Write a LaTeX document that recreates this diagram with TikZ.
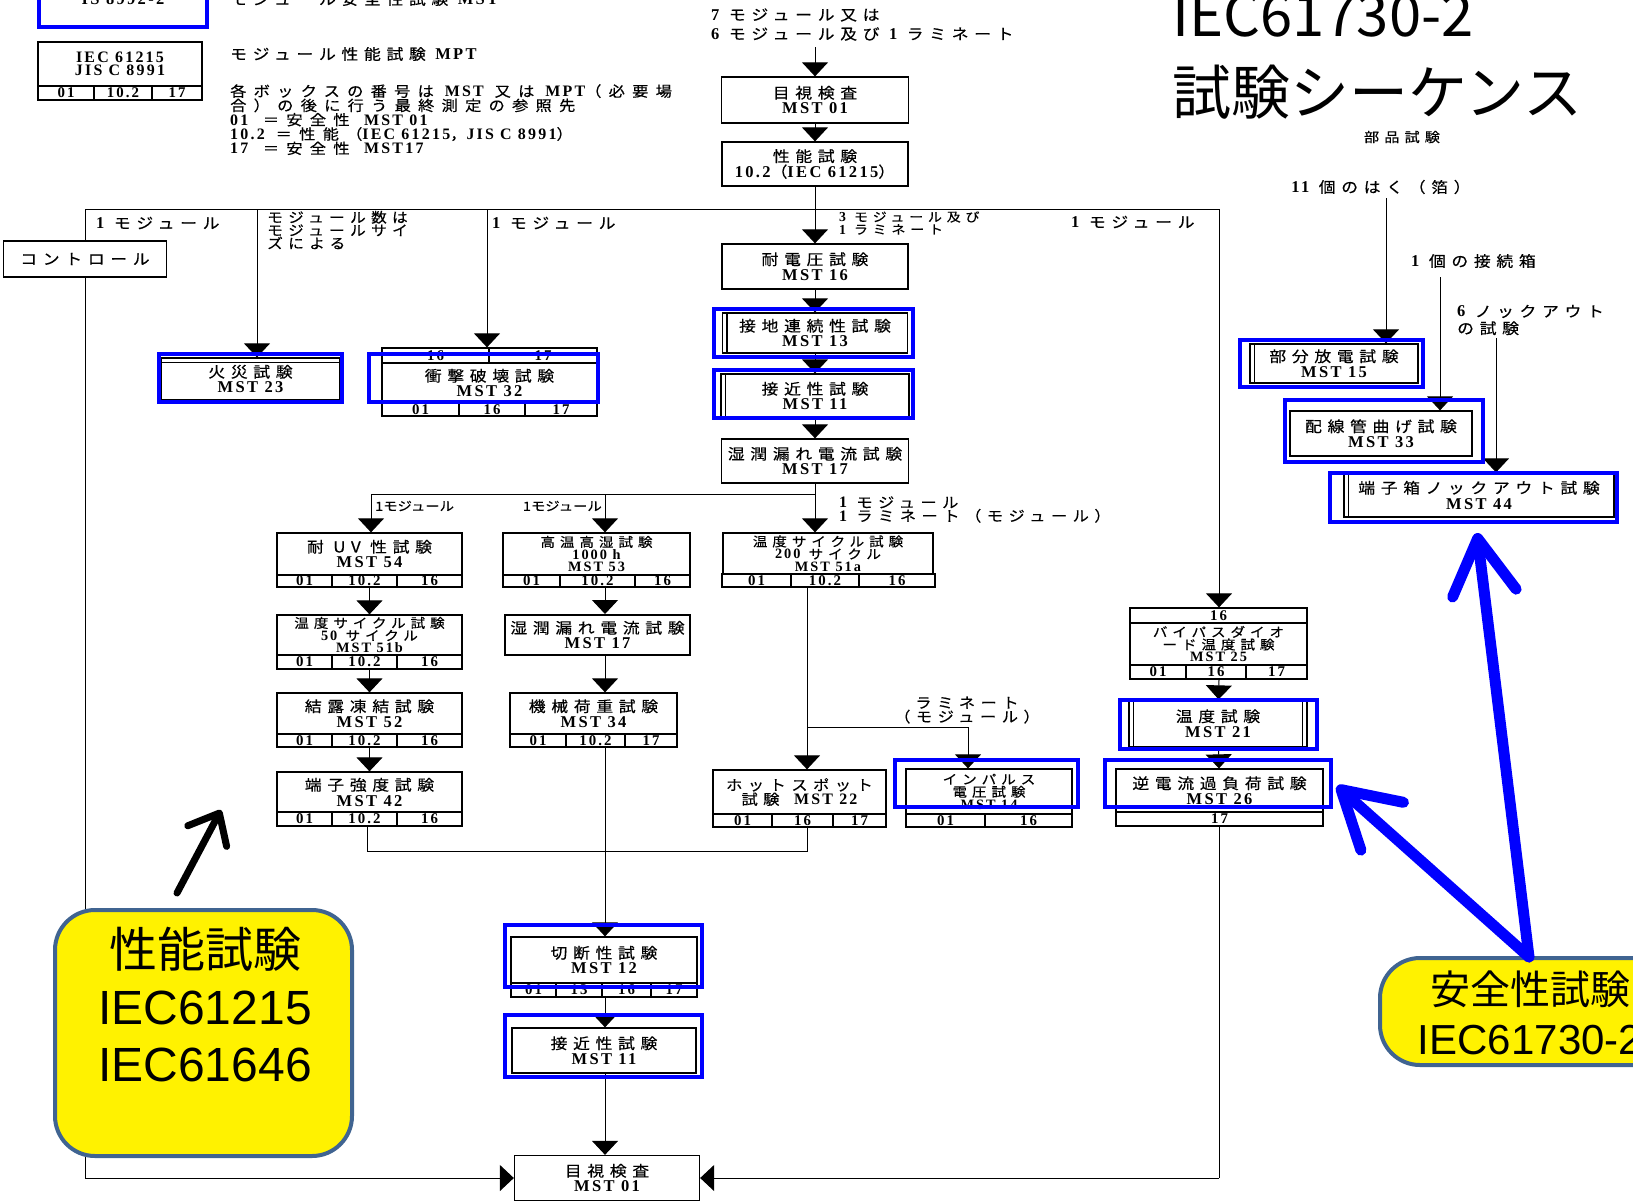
\documentclass[tikz,border=0pt]{standalone}
\usepackage{fontspec}
\setmainfont{Liberation Serif}
\newfontfamily\jp[FakeStretch=1.12,LetterSpace=38,FakeBold=0.4]{Noto Sans CJK JP}
\newfontfamily\jpn[FakeStretch=1.15,FakeBold=0.3]{Noto Sans CJK JP}
\newfontfamily\jpt{Noto Sans CJK JP}
\newfontfamily\lat[LetterSpace=14,Scale=1.1]{Liberation Serif}
\newfontfamily\arl{Liberation Sans}
\usetikzlibrary{arrows.meta}
\definecolor{calloutblue}{RGB}{64,100,145}

\newcommand\mst[1]{{\lat\bfseries #1}}
\newcommand\boxfont{\jp\fontsize{15}{15.5}\selectfont}
\newcommand\tripfont{\jp\fontsize{13}{12.5}\selectfont}
\newcommand\cellfont{\lat\bfseries\fontsize{13.5}{13}\selectfont}

% row of result cells under a box: prefix, top, bottom, list of left/right/text
\newcommand\cellrow[4]{%
  \foreach \ca/\cb/\ct [count=\ci] in {#4} {
    \pgfmathsetmacro{\cw}{\cb-\ca}
    \pgfmathsetmacro{\cx}{(\ca+\cb)/2}
    \pgfmathsetmacro{\ch}{#3-#2}
    \pgfmathsetmacro{\cy}{(#2+#3)/2}
    \node[cell, minimum width=\cw pt, minimum height=\ch pt] (#1\ci) at (\cx,\cy) {\ct};
  }
}

\tikzset{
  box/.style={draw, fill=white, line width=1.3pt, inner sep=0pt, align=center, font=\boxfont},
  cell/.style={draw, fill=white, line width=1.3pt, inner sep=0pt, font=\cellfont},
  hl/.style={draw=blue, line width=4pt},
  wire/.style={line width=1pt},
  flow/.style={wire, -{Triangle[length=14pt,width=26pt]}},
  lbl/.style={inner sep=0pt, font=\boxfont, anchor=west, align=left},
  callout/.style={draw=calloutblue, fill=yellow, line width=4pt, rounded corners=40pt},
  bigarrow/.style={blue, line width=11pt, line cap=round, -{Straight Barb[round,length=55pt,width=64pt]}},
}

\begin{document}
\begin{tikzpicture}[x=1pt, y=-1pt]
\useasboundingbox (0,0) rectangle (1633,1203);

% legend, top left
\node[hl, minimum width=168pt, minimum height=50pt, inner sep=0pt] (isbox) at (123,2) {};
\node[inner sep=0pt, font=\lat\bfseries\fontsize{15}{15}\selectfont] (istxt) at (123,-1) {IS 8992-2};
\node[lbl] (lblmst) at (230,-1) {モジュール安全性試験 \mst{MST}};
\node[box, minimum width=164pt, minimum height=44pt, font=\lat\bfseries\fontsize{14.5}{13.5}\selectfont] (leg) at (120,64) {IEC 61215\\JIS C 8991};
\cellrow{legc}{86}{100}{38/94/01, 94/152/10.2, 152/202/17}
\node[lbl] (lblmpt) at (230,54) {モジュール性能試験 \mst{MPT}};
\node[lbl, anchor=north west, font=\jp\addfontfeatures{LetterSpace=50}\fontsize{14.5}{14.3}\selectfont] (lblnote) at (230,84)
  {各ボックスの番号は \mst{MST} 又は \mst{MPT}（必要場\\合）の後に行う最終測定の参照先\\\mst{01}\quad ＝安全性\quad \mst{MST 01}\\\mst{10.2} ＝性能（\mst{IEC 61215}，\mst{JIS C 8991}）\\\mst{17}\quad ＝安全性\quad \mst{MST17}};

% title
\node[anchor=base west, inner sep=0pt, font=\jpt\fontsize{58}{60}\selectfont] (ttl1) at (1172,36) {IEC61730-2};
\node[anchor=west, inner sep=0pt, font=\jpt\fontsize{59}{60}\selectfont] (ttl2) at (1172,92) {試験シーケンス};

% main column
\node[lbl] (tlbl1) at (711,15) {\mst{7} モジュール又は};
\node[lbl] (tlbl2) at (711,34) {\mst{6} モジュール及び \mst{1} ラミネート};
\coordinate (topin) at (815,47);
\node[box, minimum width=187pt, minimum height=46pt] (top01) at (815,100) {目視検査\\\mst{MST 01}};
\node[box, minimum width=186pt, minimum height=44pt] (perf) at (815,164) {性能試験\\\mst{10.2}（\mst{IEC 61215}）};
\node[box, minimum width=186pt, minimum height=45pt] (m16) at (815,266.5) {耐電圧試験\\\mst{MST 16}};
\node[box, minimum width=185pt, minimum height=40pt] (m13) at (815,333) {接地連続性試験\\\mst{MST 13}};
\node[box, minimum width=188pt, minimum height=44pt] (m11a) at (815,396) {接近性試験\\\mst{MST 11}};
\node[box, minimum width=187pt, minimum height=44pt] (m17a) at (815,461) {湿潤漏れ電流試験\\\mst{MST 17}};

% upper branches
\node[box, minimum width=163pt, minimum height=36pt] (ctl) at (85,259) {コントロール};
\node[box, minimum width=179pt, minimum height=42pt] (m23) at (250.5,379) {火災試験\\\mst{MST 23}};
\draw[line width=1.3pt] ([yshift=-5pt]m23.north west) -- ([yshift=-5pt]m23.north east);
\node[box, minimum width=215pt, minimum height=40pt] (m32) at (489.5,383) {衝撃破壊試験\\\mst{MST 32}};
\cellrow{m32s}{348}{363}{382/489/16, 489/597/17}
\cellrow{m32c}{403}{416}{382/459/01, 459/525/16, 525/597/17}
\node[lbl] (lblmod1) at (96,223) {\mst{1} モジュール};
\node[lbl, font=\jp\fontsize{14}{13}\selectfont] (lblsize) at (267,230) {モジュール数は\\モジュールサイ\\ズによる};
\node[lbl] (lblmod2) at (492,223) {\mst{1} モジュール};
\node[lbl, font=\jp\fontsize{12.5}{12.5}\selectfont] (lbl3mod) at (839,223) {\mst{3} モジュール及び\\\mst{1} ラミネート};
\node[lbl] (lblmod3) at (1071,222) {\mst{1} モジュール};

% left column
\node[box, minimum width=185pt, minimum height=42pt] (uv54) at (369.5,554) {耐 UV 性試験\\\mst{MST 54}};
\cellrow{uv54c}{575}{587}{277/332/01, 332/397/10.2, 397/462/16}
\node[box, minimum width=185pt, minimum height=40pt, font=\tripfont] (t51b) at (369.5,635) {温度サイクル試験\\\mst{50} サイクル\\\mst{MST 51b}};
\cellrow{t51bc}{655}{669}{277/332/01, 332/397/10.2, 397/462/16}
\node[box, minimum width=185pt, minimum height=41pt] (m52) at (369.5,713.5) {結露凍結試験\\\mst{MST 52}};
\cellrow{m52c}{734}{747}{277/332/01, 332/397/10.2, 397/462/16}
\node[box, minimum width=185pt, minimum height=40pt] (m42) at (369.5,792) {端子強度試験\\\mst{MST 42}};
\cellrow{m42c}{812}{826}{277/332/01, 332/397/10.2, 397/462/16}

% second column
\node[box, minimum width=187pt, minimum height=42pt, font=\tripfont] (m53) at (596.5,554) {高温高湿試験\\\mst{1000 h}\\\mst{MST 53}};
\cellrow{m53c}{575}{587}{503/560/01, 560/635/10.2, 635/690/16}
\node[box, line width=2pt, minimum width=185pt, minimum height=40pt] (m17b) at (597.5,635) {湿潤漏れ電流試験\\\mst{MST 17}};
\node[box, minimum width=167pt, minimum height=41pt] (m34) at (593.5,713.5) {機械荷重試験\\\mst{MST 34}};
\cellrow{m34c}{734}{747}{510/566/01, 566/625/10.2, 625/677/17}
\node[box, minimum width=186pt, minimum height=46pt] (m12) at (604,960) {切断性試験\\\mst{MST 12}};
\cellrow{m12c}{983}{997}{511/556/01, 556/602/13, 602/651/16, 651/697/17}
\node[box, minimum width=184pt, minimum height=45pt] (m11b) at (604,1050.5) {接近性試験\\\mst{MST 11}};
\node[box, minimum width=185pt, minimum height=45pt] (m01b) at (607,1178) {目視検査\\\mst{MST 01}};

% third column
\node[lbl, font=\jpn\fontsize{12.5}{12}\selectfont] (lblbrL) at (375,506) {1モジュール};
\node[lbl, anchor=east, font=\jpn\fontsize{12.5}{12}\selectfont] (lblbrM) at (602,506) {1モジュール};
\node[lbl, font=\jp\fontsize{14.5}{13.5}\selectfont] (lblbrC) at (839,509.5) {\mst{1} モジュール\\\mst{1} ラミネート（モジュール）};
\node[box, minimum width=210pt, minimum height=41pt, font=\tripfont] (m51a) at (828,553.5) {温度サイクル試験\\\mst{200} サイクル\\\mst{MST 51a}};
\cellrow{m51ac}{574}{587}{722/791/01, 791/859/10.2, 859/935/16}
\node[lbl, anchor=center, align=center, font=\jp\fontsize{14.5}{14}\selectfont] (lbllam) at (967,710) {ラミネート\\（モジュール）};
\node[box, minimum width=173pt, minimum height=44pt, font=\jp\fontsize{14.5}{12.5}\selectfont] (m22) at (799.5,792) {ホットスポット\\試験\quad\mst{MST 22}};
\cellrow{m22c}{814}{827}{713/772/01, 772/833/16, 833/886/17}
\node[box, minimum width=166pt, minimum height=45pt, font=\tripfont] (m14) at (989,791.5) {インパルス\\電圧試験\\\mst{MST 14}};
\cellrow{m14c}{814}{827}{906/985/01, 985/1072/16}

% right column
\cellrow{m25s}{608}{623}{1130/1307/16}
\node[box, minimum width=177pt, minimum height=42pt, font=\tripfont] (m25) at (1218.5,644) {バイパスダイオ\\ード温度試験\\\mst{MST 25}};
\cellrow{m25c}{665}{679}{1130/1186/01, 1186/1246/16, 1246/1307/17}
\node[box, minimum width=178pt, minimum height=47pt] (m21) at (1218,723.5) {温度試験\\\mst{MST 21}};
\node[box, minimum width=207pt, minimum height=43pt] (m26) at (1219.5,790.5) {逆電流過負荷試験\\\mst{MST 26}};
\cellrow{m26c}{812}{826}{1116/1323/17}

% component tests
\node[lbl, anchor=center, font=\jp\fontsize{13.5}{12}\selectfont] (lblparts) at (1402,137) {部品試験};
\node[lbl, anchor=center] (lbl11) at (1381,187) {\mst{11} 個のはく（箔）};
\node[box, minimum width=168pt, minimum height=39pt] (m15) at (1334,363.5) {部分放電試験\\\mst{MST 15}};
\node[lbl] (lbl1box) at (1411,261) {\mst{1} 個の接続箱};
\node[box, minimum width=182pt, minimum height=45pt] (m33) at (1381,433.5) {配線管曲げ試験\\\mst{MST 33}};
\node[lbl, font=\jp\fontsize{15}{17}\selectfont] (lblko) at (1457,320) {\mst{6} ノックアウト\\の試験};
\node[box, minimum width=270pt, minimum height=44pt] (m44) at (1479,495) {端子箱ノックアウト試験\\\mst{MST 44}};

% double side lines
\foreach \nm in {m13,m11a,m15,m44,m21}
  \draw[line width=1.3pt] ([xshift=5pt]\nm.north west) -- ([xshift=5pt]\nm.south west);
\draw[line width=1.3pt] ([xshift=-5pt]m21.north east) -- ([xshift=-5pt]m21.south east);

% connectors
\coordinate (hL) at (85,209);
\coordinate (hR) at (1219,209);
\coordinate (fireV) at (257,209);
\coordinate (impV) at (487,209);
\coordinate (ctlBot) at (85,1178);
\coordinate (rBot) at (1219,1178);
\coordinate (brC) at (815,494);
\coordinate (brL) at (371,494);
\coordinate (brM) at (605,494);
\coordinate (jL) at (367,851);
\coordinate (jR) at (807,851);
\coordinate (hsV) at (807,727);
\coordinate (impB) at (968,727);
\coordinate (v15) at (1386,198);
\coordinate (v33) at (1440,277);
\coordinate (v44) at (1496,338);

\draw[flow] (topin) -- (top01);
\draw[flow] (top01) -- (perf);
\draw[flow] (perf) -- (m16);
\draw[flow] (m16) -- (m13);
\draw[flow] (m13) -- (m11a);
\draw[flow] (m11a) -- (m17a);
\draw[wire] (hL) -- (hR);
\draw[wire] (hL) -- (ctl);
\draw[wire] (ctl) -- (ctlBot);
\draw[flow] (ctlBot) -- (m01b);
\draw[flow] (fireV) -- (fireV |- m23.north);
\draw[flow] (impV) -- (impV |- m32s1.north);
\draw[flow] (hR) -- (hR |- m25s1.north);
\draw[flow] (m25c2.south -| hR) -- (m21);
\draw[flow] (m21) -- (m26);
\draw[wire] (m26c1.south -| hR) -- (rBot);
\draw[flow] (rBot) -- (m01b);

\draw[wire] (m17a) -- (brC) -- (brL);
\draw[flow] (brL) -- (brL |- uv54.north);
\draw[flow] (brM) -- (brM |- m53.north);
\draw[flow] (brC) -- (brC |- m51a.north);

\draw[flow] (uv54c2.south -| uv54) -- (t51b);
\draw[flow] (t51bc2.south -| t51b) -- (m52);
\draw[flow] (m52c2.south -| m52) -- (m42);
\draw[wire] (m42c2.south -| jL) -- (jL) -- (jR) -- (jR |- m22c2.south);

\draw[flow] (brM |- m53c2.south) -- (brM |- m17b.north);
\draw[flow] (brM |- m17b.south) -- (brM |- m34.north);
\draw[flow] (brM |- m34c2.south) -- (brM |- m12.north);
\draw[flow] (brM |- m12c2.south) -- (brM |- m11b.north);
\draw[flow] (brM |- m11b.south) -- (brM |- m01b.north);

\draw[flow] (hsV |- m51ac2.south) -- (hsV |- m22.north);
\draw[wire] (hsV) -- (impB);
\draw[flow] (impB) -- (impB |- m14.north);

\draw[flow] (v15) -- (v15 |- m15.north);
\draw[flow] (v33) -- (v33 |- m33.north);
\draw[flow] (v44) -- (v44 |- m44.north);

% blue highlights
\draw[hl] (159,354) rectangle (342,402);
\draw[hl] (369,354) rectangle (598,402);
\draw[hl] (714,309) rectangle (913,357);
\draw[hl] (714,370) rectangle (913,418);
\draw[hl] (895,760) rectangle (1078,807);
\draw[hl] (1120,700) rectangle (1317,749);
\draw[hl] (1105,760) rectangle (1331,807);
\draw[hl] (1240,340) rectangle (1423,387);
\draw[hl] (1285,400) rectangle (1483,462);
\draw[hl] (1330,473) rectangle (1617,522);
\draw[hl] (505,925) rectangle (702,987);
\draw[hl] (505,1015) rectangle (702,1077);

% callouts
\node[callout, minimum width=297pt, minimum height=246pt] (perfbox) at (203.5,1033) {};
\node[align=center, inner sep=0pt, font=\fontsize{48}{57}\selectfont] (perftxt) at (205,1005)
  {{\jpt 性能試験}\\{\arl IEC61215}\\{\arl IEC61646}};
\coordinate (perftail) at (177,893);
\coordinate (perftip) at (221,810);
\draw[line width=7pt, line cap=round, -{Straight Barb[round,length=26pt,width=44pt]}] (perftail) -- (perftip);

\node[callout, minimum width=300pt, minimum height=107pt] (safebox) at (1530,1011.5) {};
\node[align=center, inner sep=0pt, font=\fontsize{40}{50}\selectfont] (safetxt) at (1530,1013)
  {{\jpt 安全性試験}\\{\arl\fontsize{42}{50}\selectfont IEC61730-2}};
\coordinate (safetip) at (1529,957);
\coordinate (tip44) at (1477,533);
\coordinate (tip26) at (1337,786);
\draw[bigarrow] (safetip) -- (tip44);
\draw[bigarrow] (safetip) -- (tip26);

\end{tikzpicture}
\end{document}
